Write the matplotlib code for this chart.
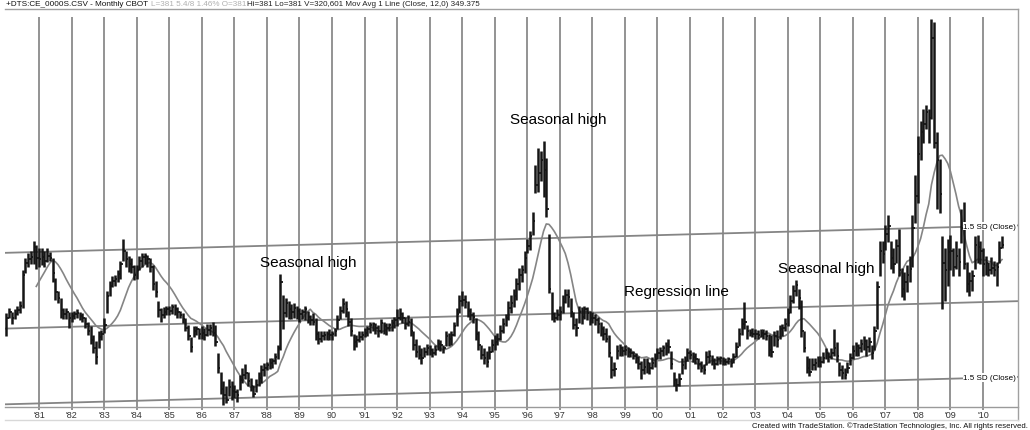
import numpy as np
import pandas as pd
import matplotlib
matplotlib.use('Agg')
import matplotlib.pyplot as plt
from matplotlib.lines import Line2D

plt.rcParams['font.family'] = ['Liberation Sans', 'DejaVu Sans']

# monthly CBOT corn, Jan 1980 - Aug 2010, cents/bu
close = [
    262, 272, 262, 268, 275, 282, 332, 352, 358, 362, 378, 360,  # 1980
    358, 362, 355, 364, 360, 335, 305, 294, 275, 268, 271, 262,  # 1981
    265, 268, 270, 265, 262, 252, 240, 226, 212, 198, 230, 235,  # 1982
    250, 298, 314, 322, 326, 334, 350, 372, 358, 350, 345, 332,  # 1983
    340, 355, 362, 364, 358, 345, 318, 305, 275, 266, 272, 276,  # 1984
    274, 280, 276, 272, 266, 260, 246, 232, 214, 240, 243, 236,  # 1985
    238, 234, 242, 245, 238, 222, 180, 145, 135, 128, 148, 142,  # 1986
    140, 136, 160, 168, 172, 158, 150, 138, 152, 164, 176, 180,  # 1987
    184, 188, 192, 198, 212, 320, 270, 286, 276, 272, 278, 274,  # 1988
    268, 272, 276, 264, 258, 256, 236, 228, 232, 234, 236, 234,  # 1989
    236, 240, 258, 274, 284, 276, 256, 240, 222, 226, 230, 234,  # 1990
    238, 244, 250, 252, 246, 240, 254, 248, 246, 250, 254, 258,  # 1991
    262, 268, 262, 252, 256, 240, 218, 206, 202, 196, 206, 212,  # 1992
    210, 204, 210, 220, 218, 212, 232, 228, 234, 248, 268, 290,  # 1993
    292, 288, 274, 266, 264, 236, 218, 202, 196, 190, 206, 218,  # 1994
    222, 228, 240, 252, 262, 278, 286, 298, 318, 332, 340, 360,  # 1995
    380, 396, 420, 480, 500, 520, 505, 440, 310, 268, 262, 266,  # 1996
    272, 288, 300, 296, 272, 250, 246, 272, 264, 276, 270, 262,  # 1997
    262, 258, 252, 244, 236, 228, 204, 176, 178, 208, 212, 208,  # 1998
    210, 206, 204, 200, 196, 186, 176, 182, 188, 180, 188, 194,  # 1999
    204, 208, 212, 216, 214, 186, 160, 152, 162, 184, 192, 204,  # 2000
    202, 198, 194, 186, 180, 176, 198, 200, 192, 186, 194, 196,  # 2001
    192, 190, 194, 188, 198, 214, 236, 252, 256, 240, 238, 236,  # 2002
    236, 234, 238, 236, 232, 210, 206, 232, 226, 244, 246, 252,  # 2003
    270, 290, 306, 316, 294, 240, 212, 180, 174, 184, 188, 192,  # 2004
    190, 196, 204, 198, 204, 212, 200, 176, 172, 168, 180, 196,  # 2005
    208, 216, 212, 220, 224, 214, 222, 204, 240, 312, 372, 366,  # 2006
    400, 412, 360, 350, 380, 340, 310, 320, 332, 342, 410, 462,  # 2007
    530, 566, 580, 600, 590, 720, 548, 520, 465, 352, 340, 370,  # 2008
    372, 346, 364, 354, 410, 350, 318, 322, 330, 382, 378, 372,  # 2009
    350, 352, 340, 344, 340, 346, 376, 381,                      # 2010
]

high = [
    270, 278, 272, 276, 282, 290, 340, 360, 368, 372, 388, 382,
    376, 376, 372, 376, 370, 360, 328, 306, 295, 278, 278, 272,
    272, 274, 277, 272, 270, 264, 256, 248, 234, 224, 240, 242,
    262, 306, 322, 330, 332, 340, 356, 392, 372, 364, 360, 348,
    348, 364, 368, 368, 365, 360, 348, 322, 290, 278, 280, 282,
    282, 284, 284, 280, 274, 270, 262, 250, 230, 248, 248, 246,
    248, 245, 252, 252, 256, 250, 204, 174, 158, 150, 162, 158,
    152, 146, 168, 180, 187, 174, 164, 152, 162, 174, 184, 188,
    190, 196, 196, 204, 218, 334, 300, 295, 290, 284, 286, 282,
    278, 276, 282, 274, 266, 270, 262, 240, 240, 240, 241, 244,
    241, 245, 266, 282, 294, 290, 274, 262, 236, 234, 240, 241,
    245, 248, 256, 256, 254, 250, 260, 256, 254, 254, 260, 264,
    276, 278, 272, 264, 266, 262, 240, 228, 218, 212, 214, 220,
    218, 212, 218, 228, 226, 218, 240, 238, 240, 256, 278, 300,
    306, 300, 290, 278, 272, 262, 240, 218, 212, 208, 216, 228,
    234, 238, 250, 262, 268, 290, 300, 310, 328, 344, 348, 372,
    392, 404, 436, 512, 540, 536, 552, 524, 400, 304, 272, 276,
    282, 300, 310, 310, 294, 272, 262, 282, 280, 282, 280, 274,
    272, 268, 264, 256, 248, 246, 234, 200, 190, 218, 220, 216,
    218, 214, 212, 208, 204, 200, 192, 196, 196, 190, 198, 204,
    212, 214, 218, 222, 228, 208, 174, 164, 172, 196, 200, 212,
    210, 206, 204, 196, 192, 186, 208, 210, 202, 196, 200, 200,
    198, 196, 198, 196, 204, 222, 246, 262, 288, 250, 244, 246,
    244, 242, 244, 244, 242, 236, 234, 240, 242, 250, 252, 262,
    278, 300, 316, 324, 310, 292, 240, 200, 196, 196, 196, 200,
    200, 206, 212, 206, 212, 244, 222, 190, 184, 180, 190, 204,
    218, 222, 220, 228, 232, 228, 230, 218, 248, 322, 388, 388,
    414, 430, 388, 376, 392, 408, 344, 338, 348, 364, 430, 496,
    560, 584, 605, 610, 605, 752, 746, 566, 522, 396, 376, 392,
    398, 376, 388, 376, 440, 452, 354, 338, 340, 396, 398, 388,
    376, 364, 354, 362, 356, 354, 388, 396,
]

low = [
    232, 262, 252, 260, 266, 270, 278, 336, 345, 350, 350, 342,
    345, 348, 346, 354, 356, 320, 292, 286, 262, 260, 260, 246,
    256, 260, 262, 259, 256, 246, 234, 220, 205, 186, 212, 226,
    238, 270, 298, 312, 314, 320, 326, 356, 346, 338, 336, 324,
    326, 340, 346, 350, 346, 338, 308, 296, 264, 256, 262, 266,
    266, 268, 266, 262, 262, 254, 240, 226, 206, 230, 234, 228,
    228, 226, 232, 234, 232, 216, 172, 138, 120, 122, 134, 128,
    130, 124, 144, 156, 162, 150, 142, 132, 140, 150, 156, 166,
    176, 178, 180, 186, 194, 210, 244, 264, 260, 260, 262, 260,
    256, 260, 258, 254, 250, 250, 226, 220, 222, 226, 226, 226,
    226, 232, 244, 260, 270, 264, 248, 232, 210, 214, 222, 226,
    230, 232, 238, 240, 236, 230, 238, 236, 234, 240, 240, 246,
    248, 258, 254, 244, 248, 232, 210, 198, 194, 186, 198, 202,
    202, 198, 202, 210, 208, 204, 216, 216, 218, 232, 248, 270,
    282, 278, 264, 258, 254, 226, 210, 194, 186, 182, 194, 206,
    210, 218, 226, 238, 248, 258, 270, 280, 292, 308, 320, 336,
    368, 374, 398, 466, 468, 486, 460, 428, 302, 258, 256, 258,
    258, 270, 286, 280, 264, 244, 232, 254, 252, 260, 258, 250,
    254, 250, 238, 232, 226, 222, 198, 164, 166, 194, 200, 200,
    202, 198, 198, 194, 188, 178, 162, 170, 172, 170, 178, 182,
    194, 194, 200, 202, 204, 178, 150, 142, 150, 170, 178, 192,
    194, 190, 186, 178, 174, 170, 184, 188, 184, 178, 184, 186,
    184, 184, 186, 182, 188, 198, 216, 234, 244, 228, 232, 230,
    228, 228, 230, 228, 226, 200, 198, 216, 214, 228, 232, 240,
    248, 270, 286, 298, 276, 230, 206, 172, 166, 176, 176, 182,
    182, 188, 194, 190, 194, 200, 190, 166, 162, 162, 172, 184,
    194, 200, 200, 206, 210, 200, 206, 194, 210, 244, 330, 352,
    374, 386, 342, 336, 352, 330, 296, 292, 304, 320, 346, 418,
    450, 520, 548, 572, 548, 588, 540, 440, 434, 276, 290, 314,
    340, 330, 342, 330, 384, 342, 304, 298, 306, 342, 352, 350,
    330, 332, 330, 334, 330, 314, 352, 376,
]

years = list(range(1981, 2011))
year_labels = ["'81", "'82", "'83", "'84", "'85", "'86", "'87", "'88", "'89", "90",
               "'91", "'92", "'93", "'94", "'95", "'96", "'97", "'98", "'99", "'00",
               "'01", "'02", "'03", "'04", "'05", "'06", "'07", "'08", "'09", "'10"]

W, H = 1030, 431
fig = plt.figure(figsize=(W / 100, H / 100), dpi=100)


def fx(px):
    return px / W


def fy(py):
    return 1 - py / H


ax = fig.add_axes([fx(5), fy(408), (1018 - 5) / W, (408 - 18) / H])
m = np.arange(len(close))
close_a = np.array(close, dtype=float)
ax.set_xlim(-0.53, 372.9)
ax.set_ylim(116, 755)

# year grid
gx = [12 * (y - 1980) for y in years]
ax.vlines(gx, 111, 755, colors='#8a8a8a', lw=1.3, clip_on=False, zorder=1)

# regression line and 1.5 SD channel
coef = np.polyfit(m, close_a, 1)
sd = np.std(close_a - np.polyval(coef, m))
xs = np.array([-2, 376])
reg = np.polyval(coef, xs)
for off in (-1.5 * sd, 0, 1.5 * sd):
    ax.plot(xs, reg + off, color='#858585', lw=1.3, zorder=2)

x_lab = 362.5
for off in (-1.5 * sd, 1.5 * sd):
    ax.text(x_lab, np.polyval(coef, x_lab) + off, '1.5 SD (Close)', fontsize=5.8,
            ha='center', va='center', zorder=4,
            bbox=dict(facecolor='white', edgecolor='none', pad=0.6))

# 12 month moving average
ma = pd.Series(close_a).rolling(12).mean()
ax.plot(m, ma, color='#858585', lw=1.2, zorder=2)

# monthly bars
ax.vlines(m, low, high, colors='#151515', lw=1.8, zorder=3)
ax.hlines(close, m, m + 0.9, colors='#151515', lw=1.3, zorder=3)

for s in ('top', 'left', 'right'):
    ax.spines[s].set_visible(False)
ax.spines['bottom'].set_color('#9a9a9a')
ax.spines['bottom'].set_linewidth(1.0)
ax.set_yticks([])
ax.set_xticks(gx)
ax.set_xticklabels(year_labels)
ax.tick_params(axis='x', length=0, pad=2.5, labelsize=6.5, labelcolor='#333333')

# frame lines
fig.add_artist(Line2D([fx(1018), fx(1018)], [fy(10), fy(421)], color='#a0a0a0', lw=1.0))
fig.add_artist(Line2D([fx(5), fx(1018)], [fy(10), fy(10)], color='#a0a0a0', lw=1.0))
fig.add_artist(Line2D([fx(5), fx(1018)], [fy(421), fy(421)], color='#d8d8d8', lw=1.0))

# header
fig.text(fx(6), fy(5), '+DTS:CE_0000S.CSV - Monthly CBOT', fontsize=5.9, va='center', color='#111111')
fig.text(fx(151), fy(5), 'L=381 5.4/8 1.46% O=381', fontsize=5.9, va='center', color='#b0b0b0')
fig.text(fx(247), fy(5), 'Hi=381 Lo=381 V=320,601 Mov Avg 1 Line (Close, 12,0) 349.375',
         fontsize=5.8, va='center', color='#222222')

# annotations
fig.text(fx(308), fy(263), 'Seasonal high', fontsize=11, ha='center', va='center')
fig.text(fx(558), fy(120), 'Seasonal high', fontsize=11, ha='center', va='center')
fig.text(fx(676), fy(292), 'Regression line', fontsize=11, ha='center', va='center')
fig.text(fx(826), fy(269), 'Seasonal high', fontsize=11, ha='center', va='center')

fig.text(fx(1028), fy(426), 'Created with TradeStation. \u00a9TradeStation Technologies, Inc. All rights reserved.',
         fontsize=5.6, ha='right', va='center', color='#111111')

fig.savefig('out.png', dpi=100)
